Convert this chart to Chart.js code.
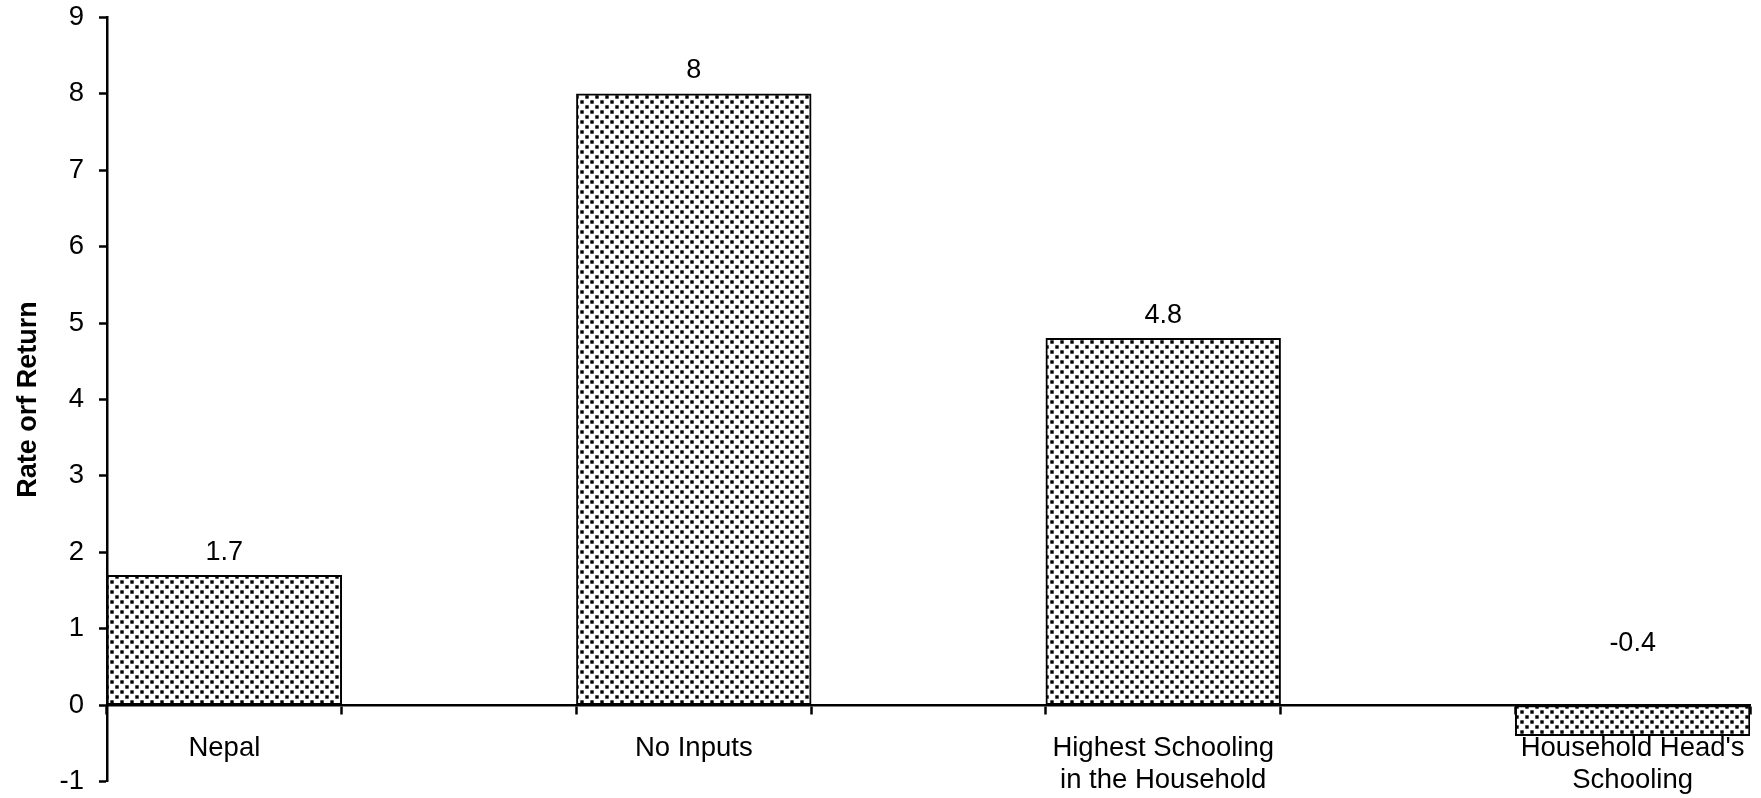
<!DOCTYPE html>
<html>
<head>
<meta charset="utf-8">
<title>Rate of Return</title>
<script src="https://cdn.jsdelivr.net/npm/chart.js@4.4.1/dist/chart.umd.min.js"></script>
<style>
  html, body { margin: 0; padding: 0; background: #ffffff; }
  #wrap { width: 1761px; height: 798px; }
</style>
</head>
<body>
<div id="wrap"><canvas id="chart" width="1761" height="798"></canvas></div>
<script>
// Categories (multi-line labels as arrays) and their rates of return
const categories = [
  'Nepal',
  'No Inputs',
  ['Highest Schooling', 'in the Household'],
  ["Household Head's", 'Schooling']
];
const rates = [1.7, 8, 4.8, -0.4];

// Value axis range and step
const yMin = -1;
const yMax = 9;
const yStep = 1;

// Bars sit in every other slot, with an empty slot between neighbours
const slotLabels = [];
const slotValues = [];
categories.forEach((c, i) => {
  if (i > 0) { slotLabels.push(''); slotValues.push(null); }
  slotLabels.push(c);
  slotValues.push(rates[i]);
});

const FONT = '"Liberation Sans", Arial, Helvetica, sans-serif';

// Stippled fill made of staggered square dots with soft edges
function makeDotPattern() {
  const c = document.createElement('canvas');
  c.width = 10; c.height = 10;
  const g = c.getContext('2d');
  g.fillStyle = '#ffffff';
  g.fillRect(0, 0, c.width, c.height);
  g.fillStyle = '#000000';
  const s = 3.4;
  [[0.3, 0.3], [5.3, 5.3]].forEach(([x, y]) => g.fillRect(x, y, s, s));
  return g.createPattern(c, 'repeat');
}

// Writes each bar's value above it
const valueLabels = {
  id: 'valueLabels',
  afterDatasetsDraw(chart) {
    const { ctx } = chart;
    const yScale = chart.scales.y;
    const meta = chart.getDatasetMeta(0);
    ctx.save();
    ctx.font = '27px ' + FONT;
    ctx.fillStyle = '#000000';
    ctx.textAlign = 'center';
    ctx.textBaseline = 'middle';
    meta.data.forEach((bar, i) => {
      const v = slotValues[i];
      if (v === null || v === undefined) return;
      const y = v >= 0 ? bar.y - 23 : yScale.getPixelForValue(0) - 62;
      ctx.fillText(String(v), bar.x, y);
    });
    ctx.restore();
  }
};

new Chart(document.getElementById('chart'), {
  type: 'bar',
  data: {
    labels: slotLabels,
    datasets: [{
      data: slotValues,
      backgroundColor: makeDotPattern(),
      borderColor: '#000000',
      borderWidth: 2,
      borderSkipped: false,
      barPercentage: 1,
      categoryPercentage: 1
    }]
  },
  options: {
    responsive: false,
    devicePixelRatio: 1,
    animation: false,
    layout: { padding: { top: 17.5, bottom: 16.5, left: 0, right: 11 } },
    plugins: {
      legend: { display: false },
      tooltip: { enabled: false }
    },
    scales: {
      x: {
        type: 'category',
        position: { y: 0 },
        offset: true,
        afterFit(scale) {
          scale.paddingLeft = 0;
          scale.paddingRight = 0;
        },
        grid: {
          offset: true,
          drawOnChartArea: false,
          drawTicks: true,
          tickLength: 8,
          tickWidth: 2.5,
          tickColor: '#000000'
        },
        border: { display: true, color: '#000000', width: 2.5 },
        ticks: {
          autoSkip: false,
          maxRotation: 0,
          minRotation: 0,
          padding: 20,
          color: '#000000',
          font: { family: FONT, size: 27.5, lineHeight: 1.15 }
        }
      },
      y: {
        min: yMin,
        max: yMax,
        afterFit(scale) {
          scale.width = 107;
          scale.paddingTop = 0;
          scale.paddingBottom = 0;
        },
        grid: {
          drawOnChartArea: false,
          drawTicks: true,
          tickLength: 8,
          tickWidth: 2.5,
          tickColor: '#000000'
        },
        border: { display: true, color: '#000000', width: 2.5 },
        ticks: {
          stepSize: yStep,
          padding: 15,
          color: '#000000',
          font: { family: FONT, size: 27.5 }
        },
        title: {
          display: true,
          text: 'Rate orf Return',
          color: '#000000',
          padding: { top: 12, bottom: 0 },
          font: { family: FONT, size: 27, weight: 'bold' }
        }
      }
    }
  },
  plugins: [valueLabels]
});
</script>
</body>
</html>
